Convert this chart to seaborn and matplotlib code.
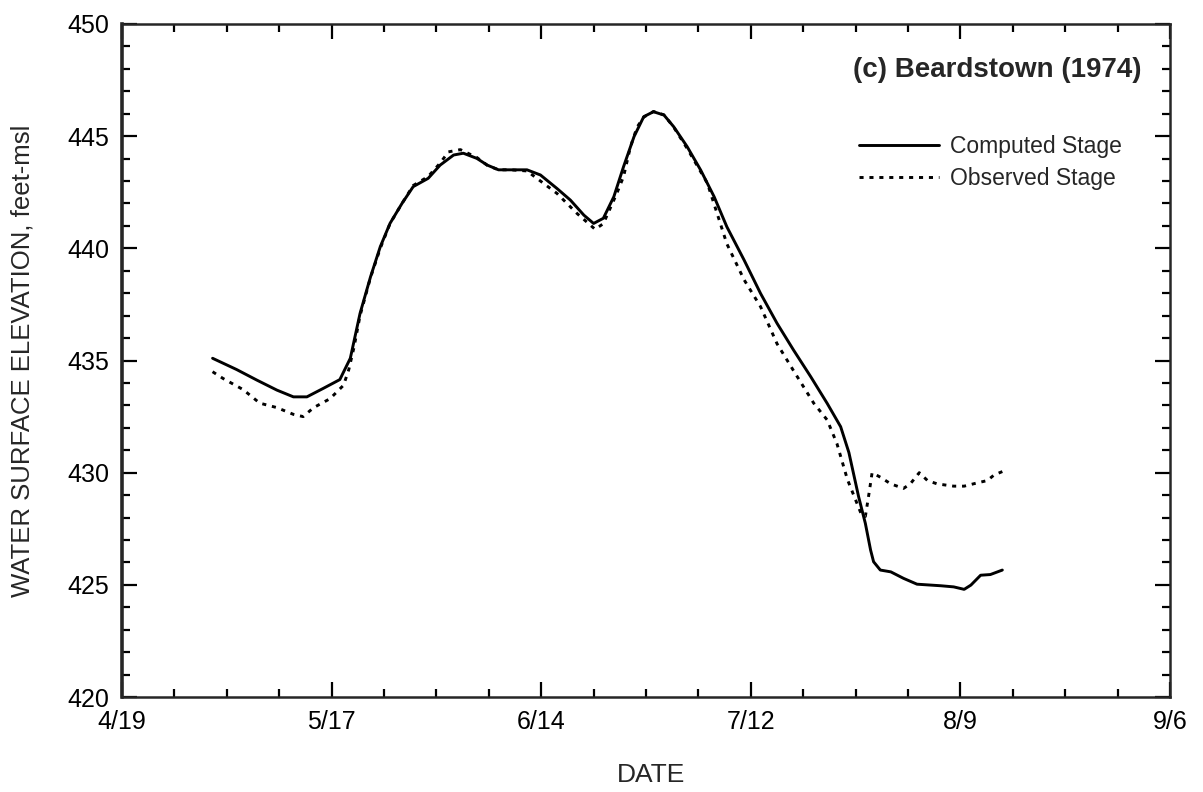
import pandas as pd
import numpy as np
import matplotlib
matplotlib.use("Agg")
import matplotlib.pyplot as plt
import matplotlib.dates as mdates
from matplotlib.ticker import MultipleLocator, FixedLocator, FixedFormatter
import seaborn as sns

# ── data ─────────────────────────────────────────────────────────────────────
START = pd.Timestamp("1974-04-19")

# days after 4/19/1974, computed stage (feet-msl)
comp_days = [12.1, 15.3, 18.0, 20.7, 22.9, 24.7, 26.9, 29.1, 30.5, 31.8,
             33.2, 34.5, 35.8, 37.4, 38.9, 40.9, 42.5, 44.3, 45.6, 47.4,
             48.8, 50.3, 51.9, 54.1, 55.9, 58.1, 59.9, 61.7, 63.0, 64.3,
             65.7, 67.0, 68.4, 69.7, 71.0, 72.4, 73.7, 75.5, 77.3, 79.1,
             80.8, 83.1, 85.3, 87.5, 89.7, 92.0, 94.2, 96.0, 97.1, 98.4,
             99.3, 100.0, 100.4, 101.3, 102.7, 104.4, 106.2, 109.4, 111.1, 112.5,
             113.4, 114.7, 116.0, 117.6]
comp_stage = [435.10, 434.60, 434.13, 433.68, 433.38, 433.38, 433.76, 434.15, 435.10, 437.10,
              438.73, 440.07, 441.11, 442.00, 442.75, 443.12, 443.71, 444.16, 444.24, 444.01,
              443.71, 443.50, 443.50, 443.50, 443.27, 442.67, 442.15, 441.48, 441.11, 441.34,
              442.30, 443.64, 444.98, 445.87, 446.09, 445.94, 445.42, 444.53, 443.49, 442.30,
              440.96, 439.48, 437.99, 436.66, 435.47, 434.28, 433.09, 432.05, 430.90, 428.93,
              427.74, 426.55, 426.03, 425.66, 425.58, 425.29, 425.03, 424.96, 424.91, 424.80,
              424.99, 425.43, 425.46, 425.66]

# days after 4/19/1974, observed stage (feet-msl)
obs_days = [12.1, 13.5, 16.2, 18.4, 20.7, 22.9, 24.2, 25.6, 27.8, 29.6,
            30.3, 31.0, 31.8, 33.2, 34.5, 35.8, 37.4, 38.9, 40.9, 42.5,
            43.6, 45.2, 47.4, 48.8, 50.3, 51.9, 54.1, 55.9, 58.1, 60.8,
            63.2, 64.3, 66.1, 67.0, 67.9, 68.8, 69.7, 71.0, 72.4, 73.7,
            75.5, 78.2, 80.8, 83.1, 85.3, 87.5, 89.7, 92.4, 94.2, 95.5,
            96.9, 98.7, 99.3, 99.8, 100.2, 101.3, 102.7, 104.4, 105.3, 106.5,
            107.6, 108.9, 111.1, 112.5, 114.3, 115.6, 116.5, 117.6]
obs_stage = [434.50, 434.20, 433.70, 433.10, 432.90, 432.60, 432.50, 432.90, 433.30, 433.90,
             434.60, 435.60, 437.00, 438.70, 440.00, 441.10, 442.00, 442.80, 443.20, 443.80,
             444.30, 444.40, 444.05, 443.70, 443.50, 443.50, 443.45, 443.00, 442.45, 441.55,
             440.85, 441.10, 442.45, 443.20, 444.50, 445.40, 445.85, 446.10, 445.95, 445.40,
             444.45, 442.90, 440.20, 438.60, 437.40, 435.75, 434.55, 433.10, 432.35, 431.30,
             429.70, 428.20, 428.05, 429.10, 430.00, 429.80, 429.50, 429.30, 429.50, 430.00,
             429.65, 429.50, 429.40, 429.40, 429.55, 429.65, 429.90, 430.05]

tick_labels = ["4/19", "5/17", "6/14", "7/12", "8/9", "9/6"]
y_ticks = [420, 425, 430, 435, 440, 445, 450]

# ── style ────────────────────────────────────────────────────────────────────
sns.set_style("ticks")
plt.rcParams['font.family'] = ['Liberation Sans', 'DejaVu Sans']

comp_df = pd.DataFrame({
    'date': START + pd.to_timedelta(comp_days, unit='D'),
    'stage': comp_stage,
})
obs_df = pd.DataFrame({
    'date': START + pd.to_timedelta(obs_days, unit='D'),
    'stage': obs_stage,
})

fig = plt.figure(figsize=(12.03, 7.92), dpi=100)
ax = fig.add_axes([0.1014, 0.1199, 0.8712, 0.8498])

sns.lineplot(data=comp_df, x='date', y='stage', ax=ax, color='black',
             lw=2.1, label='Computed Stage')
sns.lineplot(data=obs_df, x='date', y='stage', ax=ax, color='black',
             lw=2.1, linestyle=(0, (1.4, 2.0)), label='Observed Stage')

# axes ranges and ticks
tick_dates = [pd.Timestamp("1974/" + t) for t in tick_labels]
ax.set_xlim(tick_dates[0], tick_dates[-1])
ax.set_ylim(420, 450)
ax.xaxis.set_major_locator(FixedLocator(mdates.date2num(tick_dates)))
ax.xaxis.set_major_formatter(FixedFormatter(tick_labels))
ax.xaxis.set_minor_locator(mdates.WeekdayLocator(byweekday=mdates.FR))
ax.set_yticks(y_ticks)
ax.yaxis.set_minor_locator(MultipleLocator(1))

ax.tick_params(which='both', direction='in', top=True, right=True,
               width=1.6, labelsize=18, pad=9, colors='black')
ax.tick_params(which='major', length=11)
ax.tick_params(which='minor', length=6)
for side in ['top', 'right', 'bottom']:
    ax.spines[side].set_linewidth(1.8)
ax.spines['left'].set_linewidth(2.6)

ax.set_xlabel('DATE', fontsize=19, va='center')
ax.set_ylabel('WATER SURFACE ELEVATION, feet-msl', fontsize=18.5, va='center')
ax.xaxis.set_label_coords(0.505, -0.116)
ax.yaxis.set_label_coords(-0.095, 0.5)

ax.text(0.973, 0.932, '(c) Beardstown (1974)', transform=ax.transAxes,
        ha='right', va='center', fontsize=20, fontweight='bold')

ax.legend(loc='upper left', bbox_to_anchor=(0.703, 0.835), frameon=False,
          fontsize=16.5, handlelength=3.5, handletextpad=0.5,
          labelspacing=0.4, borderpad=0, borderaxespad=0)

fig.savefig('out.png', dpi=100)
plt.close(fig)
